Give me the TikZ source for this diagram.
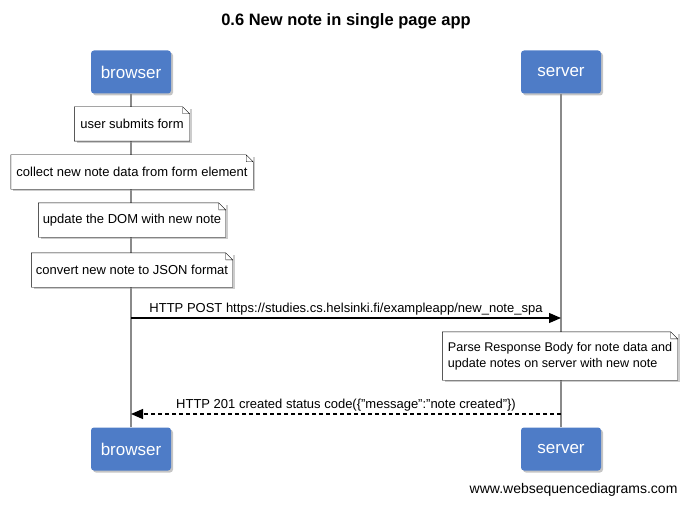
\documentclass[tikz,border=0pt]{standalone}
\usepackage{fontspec}
\setmainfont{Liberation Sans}
\usetikzlibrary{arrows.meta,shadows}
\definecolor{actorblue}{HTML}{4E7CC7}
\definecolor{lifegray}{HTML}{8A8A8A}
\tikzset{actor/.style={fill=actorblue,rounded corners=3pt,text=white,font=\fontsize{17}{20}\selectfont,minimum width=80pt,minimum height=43pt,drop shadow={shadow xshift=2pt,shadow yshift=-2pt,fill=black!45}},note/.style={fill=white,font=\fontsize{13}{16}\selectfont,minimum height=34pt,inner sep=4pt,drop shadow={shadow xshift=2pt,shadow yshift=-2pt,fill=black!40}},life/.style={draw=lifegray,line width=1.5pt},msg/.style={-{Triangle[length=12pt,width=10pt]},line width=1.2pt},lbl/.style={above,font=\fontsize{13}{15}\selectfont,inner sep=2pt}}

\begin{document}
\begin{tikzpicture}[x=1pt,y=-1pt]
\useasboundingbox (0,0) rectangle (690,505);
\node[font=\bfseries\fontsize{16.5}{19}\selectfont] (title) at (346,21) {0.6 New note in single page app};
\node[actor] (browsertop) at (131,72) {browser};
\node[actor] (servertop) at (561,72) {server};
\node[actor] (browserbot) at (131,449) {browser};
\node[actor] (serverbot) at (561,449) {server};
\draw[life] (browsertop) -- (browserbot);
\draw[life] (servertop) -- (serverbot);
\node[note,minimum width=115pt] (submit) at (132,124) {user submits form};
\node[note,minimum width=242pt] (collect) at (132,172) {collect new note data from form element};
\node[note,minimum width=187pt] (update) at (132,220) {update the DOM with new note};
\node[note,minimum width=201pt] (convert) at (132,270) {convert new note to JSON format};
\node[note,minimum width=235pt,minimum height=48pt,align=left,font=\fontsize{12.6}{16}\selectfont] (parse) at (560,356) {Parse Response Body for note data and\\update notes on server with new note};
\foreach \n in {submit,collect,update,convert,parse}
  \draw (\n.south west) -- (\n.south east) -- ([yshift=-7pt]\n.north east) -- ([xshift=-7pt]\n.north east) -- (\n.north west) -- cycle
        ([xshift=-7pt]\n.north east) |- ([yshift=-7pt]\n.north east);
\coordinate (post) at (0,318);
\coordinate (reply) at (0,414);
\draw[msg] (browsertop |- post) -- node[lbl]{HTTP POST https://studies.cs.helsinki.fi/exampleapp/new\_note\_spa} (servertop |- post);
\draw[msg,dash pattern=on 4pt off 3pt] (servertop |- reply) -- node[lbl]{HTTP 201 created status code(\{"message":"note created"\})} (browsertop |- reply);
\node[anchor=east,font=\fontsize{14}{16}\selectfont] (footer) at (681,490) {www.websequencediagrams.com};
\end{tikzpicture}
\end{document}
